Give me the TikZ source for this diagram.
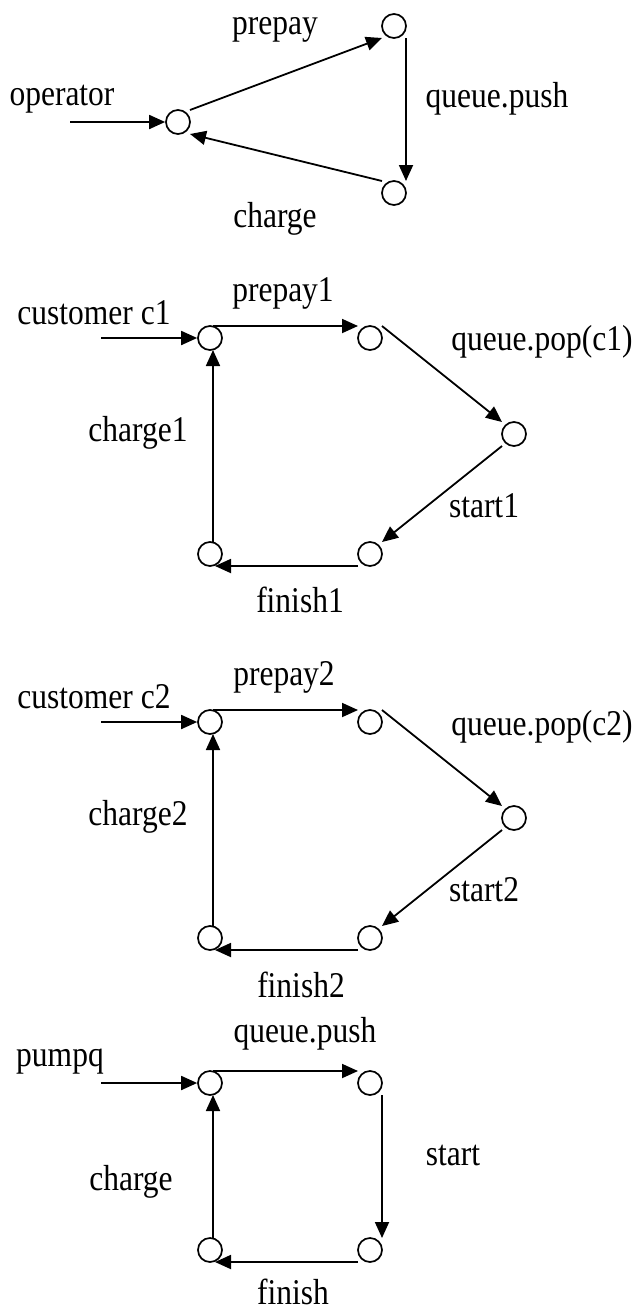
\documentclass[tikz,border=0pt]{standalone}
\usepackage{fontspec}
\setmainfont{Liberation Serif}
\usetikzlibrary{arrows.meta}
% labels are set a little taller than the font's natural proportions
\newcommand\tall[1]{\scalebox{1}[1.15]{#1}}
\begin{document}
\begin{tikzpicture}[x=1pt,y=-1pt,
  place/.style={circle,draw,minimum size=24pt,inner sep=0pt,line width=1.7pt},
  lbl/.style={inner sep=0pt,font=\fontsize{31.5}{36}\selectfont},
  conn/.style={line width=1.8pt,-{Triangle[length=16pt,width=14pt]}}]
\useasboundingbox (0,0) rectangle (635,1310);

% --- operator loop
\node[place] (A) at (178,122) {};
\node[place] (B) at (394,26) {};
\node[place] (C) at (394,193) {};
\coordinate (inA) at (70,122);
\node[lbl] (lOp) at (62,99) {\tall{operator}};
\node[lbl] (lPre) at (275,30) {\tall{prepay}};
\node[lbl] (lPush) at (497,99) {\tall{queue.push}};
\node[lbl] (lChg) at (275,219) {\tall{charge}};
\draw[conn] (inA) -- (A.west);
\draw[conn] ([shift={(12,-12)}]A.center) -- ([shift={(-12,12)}]B.center);
\draw[conn] ([shift={(12,12)}]B.center) -- ([shift={(12,-12)}]C.center);
\draw[conn] ([shift={(-12,-12)}]C.center) -- ([shift={(12,12)}]A.center);

% --- customer c1 loop
\node[place] (D1) at (210,338) {};
\node[place] (D2) at (370,338) {};
\node[place] (D3) at (514,434) {};
\node[place] (D4) at (370,554) {};
\node[place] (D5) at (210,554) {};
\coordinate (inD) at (101,338);
\node[lbl] (lC1) at (94,313) {\tall{customer c1}};
\node[lbl] (lPre1) at (283,293) {\tall{prepay1}};
\node[lbl] (lPop1) at (542,342) {\tall{queue.pop(c1)}};
\node[lbl] (lChg1) at (138,433) {\tall{charge1}};
\node[lbl] (lSt1) at (484,506) {\tall{start1}};
\node[lbl] (lFin1) at (300,600) {\tall{finish1}};
\draw[conn] (inD) -- (D1.west);
\draw[conn] ([shift={(3,-12)}]D1.center) -- ([shift={(-12,-12)}]D2.center);
\draw[conn] ([shift={(12,-12)}]D2.center) -- ([shift={(-12,-12)}]D3.center);
\draw[conn] ([shift={(-12,12)}]D3.center) -- ([shift={(12,-12)}]D4.center);
\draw[conn] ([shift={(-12,12)}]D4.center) -- ([shift={(5,12)}]D5.center);
\draw[conn] ([shift={(3,-12)}]D5.center) -- ([shift={(3,12)}]D1.center);

% --- customer c2 loop
\node[place] (E1) at (210,722) {};
\node[place] (E2) at (370,722) {};
\node[place] (E3) at (514,818) {};
\node[place] (E4) at (370,938) {};
\node[place] (E5) at (210,938) {};
\coordinate (inE) at (101,722);
\node[lbl] (lC2) at (94,697) {\tall{customer c2}};
\node[lbl] (lPre2) at (284,677) {\tall{prepay2}};
\node[lbl] (lPop2) at (542,727) {\tall{queue.pop(c2)}};
\node[lbl] (lChg2) at (138,817) {\tall{charge2}};
\node[lbl] (lSt2) at (484,890) {\tall{start2}};
\node[lbl] (lFin2) at (301,985) {\tall{finish2}};
\draw[conn] (inE) -- (E1.west);
\draw[conn] ([shift={(3,-12)}]E1.center) -- ([shift={(-12,-12)}]E2.center);
\draw[conn] ([shift={(12,-12)}]E2.center) -- ([shift={(-12,-12)}]E3.center);
\draw[conn] ([shift={(-12,12)}]E3.center) -- ([shift={(12,-12)}]E4.center);
\draw[conn] ([shift={(-12,12)}]E4.center) -- ([shift={(5,12)}]E5.center);
\draw[conn] ([shift={(3,-12)}]E5.center) -- ([shift={(3,12)}]E1.center);

% --- pump queue loop
\node[place] (Q1) at (210,1083) {};
\node[place] (Q2) at (370,1083) {};
\node[place] (Q3) at (370,1250) {};
\node[place] (Q4) at (210,1250) {};
\coordinate (inQ) at (101,1083);
\node[lbl] (lPq) at (60,1062) {\tall{pumpq}};
\node[lbl] (lPush2) at (305,1034) {\tall{queue.push}};
\node[lbl] (lSt) at (453,1155) {\tall{start}};
\node[lbl] (lChg3) at (131,1182) {\tall{charge}};
\node[lbl] (lFin) at (293,1292) {\tall{finish}};
\draw[conn] (inQ) -- (Q1.west);
\draw[conn] ([shift={(3,-12)}]Q1.center) -- ([shift={(-12,-12)}]Q2.center);
\draw[conn] ([shift={(12,12)}]Q2.center) -- ([shift={(12,-12)}]Q3.center);
\draw[conn] ([shift={(-12,12)}]Q3.center) -- ([shift={(5,12)}]Q4.center);
\draw[conn] ([shift={(3,-12)}]Q4.center) -- ([shift={(3,12)}]Q1.center);
\end{tikzpicture}
\end{document}
